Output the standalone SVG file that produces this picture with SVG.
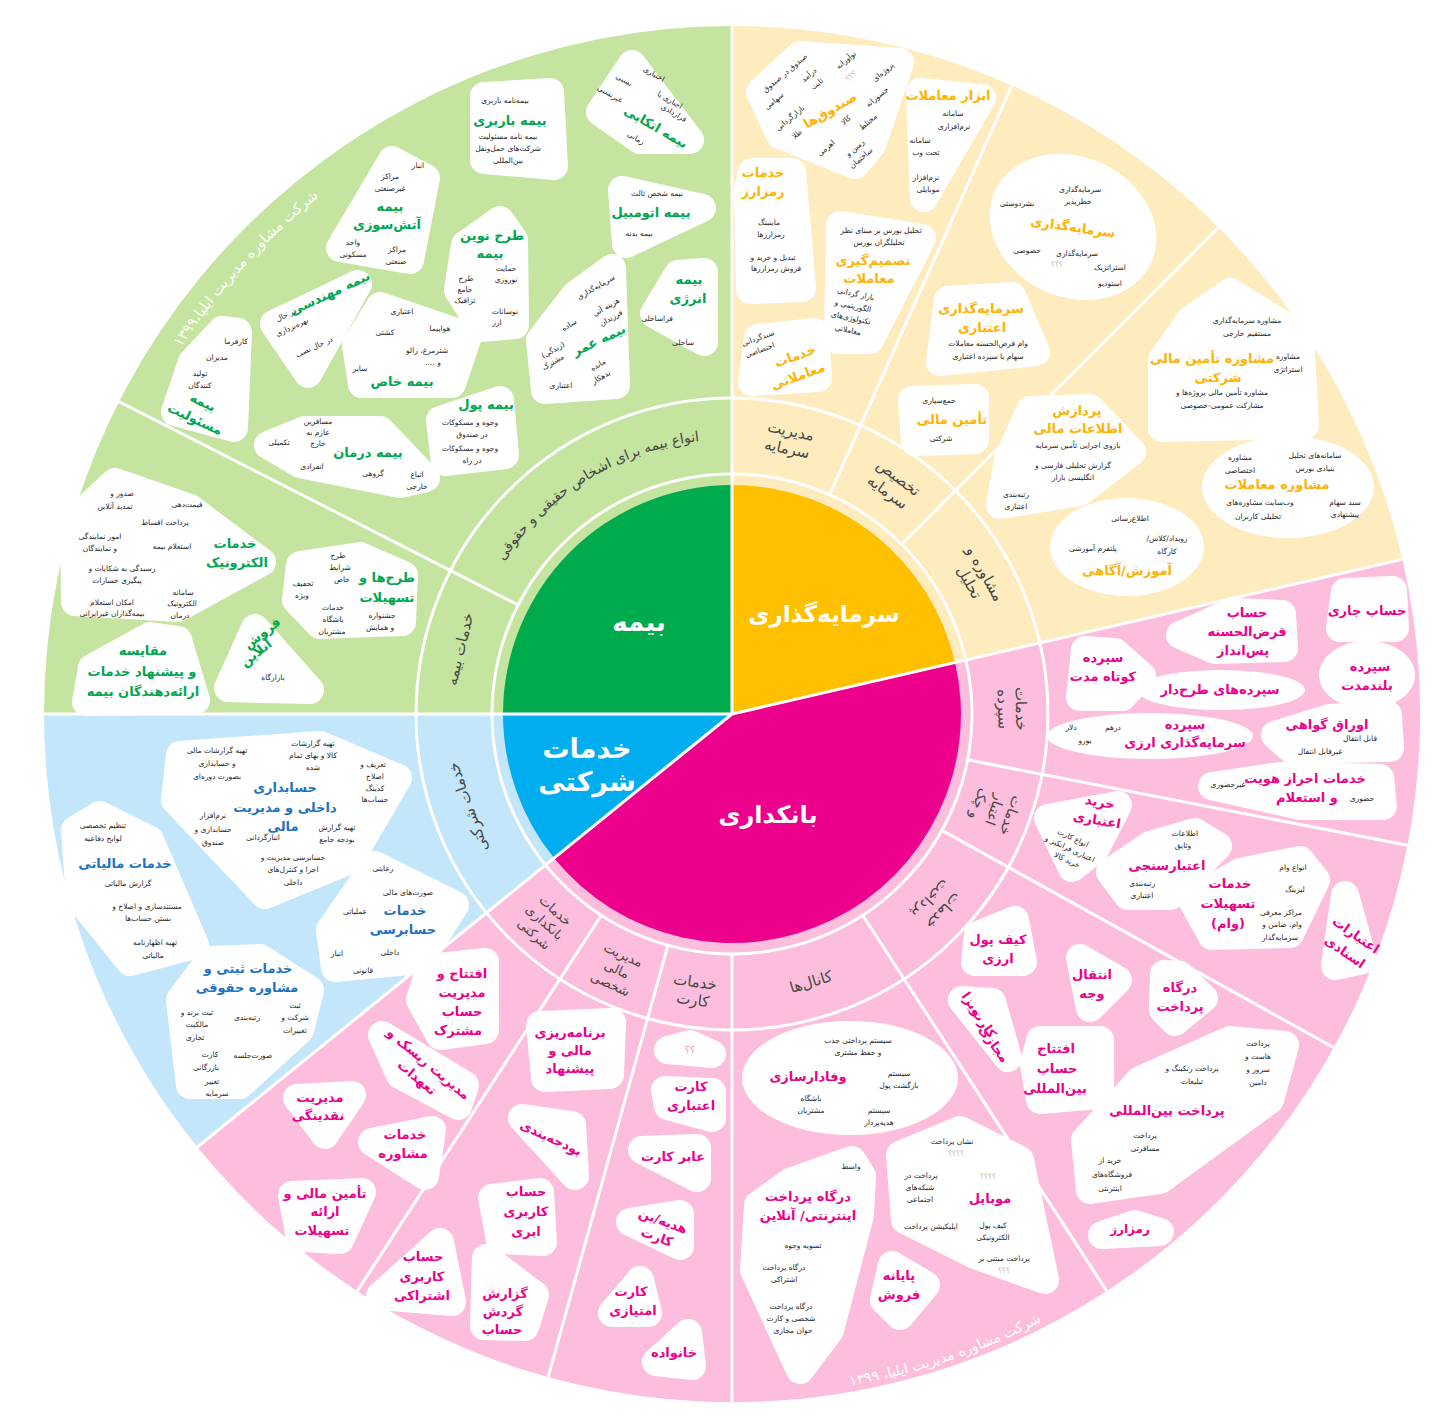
<svg xmlns="http://www.w3.org/2000/svg" width="1456" height="1418" viewBox="0 0 1456 1418">
<style>
text{font-family:"DejaVu Sans","Noto Sans",sans-serif;text-anchor:middle;dominant-baseline:central;direction:rtl}
.s{font-size:7.5px;fill:#262626}
.q{font-size:7.5px;fill:#b5b5b5}
.g{font-size:13px;font-weight:bold;fill:#00a650}
.y{font-size:13px;font-weight:bold;fill:#ffb300}
.p{font-size:13px;font-weight:bold;fill:#ec008c}
.c{font-size:13px;font-weight:bold;fill:#1e73be}
.m{font-size:15px;fill:#464646}
.pl{font-weight:bold;fill:#fff}
.arc{dominant-baseline:auto;font-size:14.5px;fill:#fff}
.b{fill:#fff;stroke:#fff;stroke-width:28;stroke-linejoin:round}
.e{fill:#fff}
</style>
<defs>
<path id="arcG" d="M487,589.1 A275,275 0 0 1 732,439"/>
<path id="arcTop" d="M132,434.2 A662,662 0 0 1 401,140.7"/>
<path id="arcBot" d="M791.5,1393.4 A682,682 0 0 0 1093.4,1292.3"/>
</defs>
<rect width="1456" height="1418" fill="#fff"/>
<g id="sectors">
<path fill="#c4e4a0" d="M732,714 L44,714 A688,688 0 0 1 732,26 Z"/>
<path fill="#feebbe" d="M732,714 L732,26 A688,688 0 0 1 1402.4,559.2 Z"/>
<path fill="#fcbedc" d="M732,714 L1402.4,559.2 A688,688 0 0 1 197.3,1147 Z"/>
<path fill="#c4e6fa" d="M732,714 L197.3,1147 A688,688 0 0 1 44,714 Z"/>
</g>
<g id="node-bime"><path fill="#00ab4e" d="M732,714 L503,714 A229,229 0 0 1 732,485 Z"/></g>
<g id="node-sarmaye"><path fill="#ffc000" d="M732,714 L732,485 A229,229 0 0 1 955.1,662.5 Z"/></g>
<g id="node-banki"><path fill="#ed008c" d="M732,714 L955.1,662.5 A229,229 0 0 1 554,858.1 Z"/></g>
<g id="node-sherkati"><path fill="#00aeef" d="M732,714 L554,858.1 A229,229 0 0 1 503,714 Z"/></g>
<g id="connectors" stroke="#fff" stroke-width="3" fill="none">
<circle cx="732" cy="714" r="240"/>
<circle cx="732" cy="714" r="316"/>
<line x1="732" y1="714" x2="732" y2="26"/>
<line x1="732" y1="714" x2="1402.4" y2="559.2"/>
<line x1="732" y1="714" x2="197.3" y2="1147"/>
<line x1="732" y1="714" x2="44" y2="714"/>
<line x1="518.2" y1="605" x2="119" y2="401.6"/>
<line x1="829.6" y1="494.8" x2="1011.8" y2="85.5"/>
<line x1="901.7" y1="544.3" x2="1218.5" y2="227.5"/>
<line x1="967.6" y1="759.8" x2="1407.3" y2="845.3"/>
<line x1="941.9" y1="830.4" x2="1333.7" y2="1047.5"/>
<line x1="862.7" y1="915.3" x2="1106.7" y2="1291"/>
<line x1="732" y1="954" x2="732" y2="1402"/>
<line x1="667.9" y1="945.3" x2="548.2" y2="1376.9"/>
<line x1="601.3" y1="915.3" x2="357.3" y2="1291"/>
</g>
<g id="pie-labels">
<text class="pl" x="639" y="622" font-size="26">بیمه</text>
<text class="pl" x="824" y="614" font-size="23">سرمایه&#8204;گذاری</text>
<text class="pl" x="587" y="748" font-size="27">خدمات</text>
<text class="pl" x="587" y="781" font-size="27">شرکتی</text>
<text class="pl" x="768" y="815" font-size="24">بانکداری</text>
</g>
<g id="ring-labels">
<text class="m" transform="rotate(12 789 440)"><tspan x="789" y="431">مدیریت</tspan><tspan x="789" y="449">سرمایه</tspan></text>
<text class="m" transform="rotate(37 893 485)"><tspan x="893" y="476">تخصیص</tspan><tspan x="893" y="494">سرمایه</tspan></text>
<text class="m" transform="rotate(61 977 578)"><tspan x="977" y="569">مشاوره و</tspan><tspan x="977" y="587">تحلیل</tspan></text>
<text class="m" transform="rotate(89 1012 709)"><tspan x="1012" y="700">خدمات</tspan><tspan x="1012" y="718">سپرده</tspan></text>
<text class="m" style="font-size:14px" transform="rotate(110 995 810)"><tspan x="995" y="793">خدمات</tspan><tspan x="995" y="810">اعتبار</tspan><tspan x="995" y="827">و چک</tspan></text>
<text class="m" transform="rotate(133 937 905)"><tspan x="937" y="896">خدمات</tspan><tspan x="937" y="914">پرداخت</tspan></text>
<text class="m" transform="rotate(-16.5 811 982)" x="811" y="982">کانال&#8204;ها</text>
<text class="m" transform="rotate(7.75 694 991)"><tspan x="694" y="982">خدمات</tspan><tspan x="694" y="1000">کارت</tspan></text>
<text class="m" style="font-size:13px" transform="rotate(24.25 617 969)"><tspan x="617" y="953">مدیریت</tspan><tspan x="617" y="969">مالی</tspan><tspan x="617" y="985">شخصی</tspan></text>
<text class="m" style="font-size:13px" transform="rotate(42 545 922)"><tspan x="545" y="906">خدمات</tspan><tspan x="545" y="922">بانکداری</tspan><tspan x="545" y="938">شرکتی</tspan></text>
<text class="m" transform="rotate(-109.5 468 807)" x="468" y="807">خدمات شرکتی</text>
<text class="m" transform="rotate(-76.5 460 649)" x="460" y="649">خدمات بیمه</text>
<text class="m" style="dominant-baseline:auto;font-size:14px"><textPath href="#arcG" startOffset="50%">انواع بیمه برای اشخاص حقیقی و حقوقی</textPath></text>
<text class="arc"><textPath href="#arcTop" startOffset="50%">شرکت مشاوره مدیریت ایلیا،۱۳۹۹</textPath></text>
<text class="arc" style="font-size:14px"><textPath href="#arcBot" startOffset="50%">شرکت مشاوره مدیریت ایلیا، ۱۳۹۹</textPath></text>
</g>
<g id="n-barbari">
<polygon class="b" points="484,96 550,92 554,166 484,160"/>
<text class="s" x="505" y="100">بیمه&#8204;نامه باربری</text>
<text class="g" x="510" y="120">بیمه باربری</text>
<text class="s" x="508" y="136">بیمه نامه مسئولیت</text>
<text class="s" x="508" y="148">شرکت&#8204;های حمل&#8204;ونقل</text>
<text class="s" x="508" y="160">بین&#8204;المللی</text>
</g>
<g id="n-etekaei">
<polygon class="b" points="632,64 690,140 640,140 600,112"/>
<text class="s" x="654" y="74" transform="rotate(30 654 74)">اختیاری</text>
<text class="s" x="624" y="80" transform="rotate(30 624 80)">نسبی</text>
<text class="s" x="610" y="94" transform="rotate(30 610 94)">غیرنسبی</text>
<text class="s" x="670" y="100" transform="rotate(30 670 100)">اجباری یا</text>
<text class="s" x="674" y="113" transform="rotate(30 674 113)">قراردادی</text>
<text class="g" x="656" y="127" transform="rotate(30 656 127)">بیمه اتکایی</text>
<text class="s" x="636" y="138" transform="rotate(30 636 138)">زمانی</text>
</g>
<g id="n-atash">
<polygon class="b" points="392,160 426,178 410,260 340,248"/>
<text class="s" x="418" y="165">انبار</text>
<text class="s" x="390" y="176">مراکز</text>
<text class="s" x="390" y="188">غیرصنعتی</text>
<text class="g" x="390" y="206">بیمه</text>
<text class="g" x="387" y="224">آتش&#8204;سوزی</text>
<text class="s" x="353" y="242">واحد</text>
<text class="s" x="353" y="254">مسکونی</text>
<text class="s" x="397" y="249">مراکز</text>
<text class="s" x="396" y="261">صنعتی</text>
</g>
<g id="n-novin">
<polygon class="b" points="500,220 514,240 515,325 482,328 458,290 465,245"/>
<text class="g" x="492" y="235">طرح نوین</text>
<text class="g" x="490" y="253">بیمه</text>
<text class="s" x="506" y="268">حمایت</text>
<text class="s" x="506" y="279">نوروزی</text>
<text class="s" x="466" y="278">طرح</text>
<text class="s" x="465" y="289">جامع</text>
<text class="s" x="465" y="300">ترافیک</text>
<text class="s" x="505" y="311">نوسانات</text>
<text class="s" x="497" y="322">ارز</text>
</g>
<g id="n-otomobil">
<polygon class="b" points="622,190 702,208 626,244"/>
<text class="s" x="657" y="193">بیمه شخص ثالث</text>
<text class="g" x="651" y="212">بیمه اتومبیل</text>
<text class="s" x="639" y="233">بیمه بدنه</text>
</g>
<g id="n-enerji">
<polygon class="b" points="678,274 704,272 704,342 654,314"/>
<text class="g" x="689" y="279">بیمه</text>
<text class="g" x="688" y="298">انرژی</text>
<text class="s" x="657" y="318">فراساحلی</text>
<text class="s" x="683" y="342">ساحلی</text>
</g>
<g id="n-omr">
<polygon class="b" points="612,268 616,385 545,390 540,340 575,295"/>
<text class="s" x="596" y="287" transform="rotate(-30 596 287)">سرمایه&#8204;گذاری</text>
<text class="s" x="606" y="307" transform="rotate(-30 606 307)">هزینه آتی</text>
<text class="s" x="611" y="318" transform="rotate(-30 611 318)">فرزندان</text>
<text class="s" x="569" y="325" transform="rotate(-30 569 325)">ساده</text>
<text class="g" x="599" y="340" transform="rotate(-25 599 340)">بیمه عمر</text>
<text class="s" x="553" y="350" transform="rotate(-30 553 350)">(زندگی)</text>
<text class="s" x="553" y="362" transform="rotate(-30 553 362)">مشترک</text>
<text class="s" x="598" y="365" transform="rotate(-30 598 365)">مانده</text>
<text class="s" x="601" y="377" transform="rotate(-30 601 377)">بدهکار</text>
<text class="s" x="561" y="385">اعتباری</text>
</g>
<g id="n-mohandesi">
<polygon class="b" points="358,284 274,324 308,374"/>
<text class="g" x="330" y="293" transform="rotate(-25 330 293)">بیمه مهندسی</text>
<text class="s" x="286" y="315" transform="rotate(-25 286 315)">در حال</text>
<text class="s" x="292" y="327" transform="rotate(-25 292 327)">بهره&#8204;برداری</text>
<text class="s" x="314" y="347" transform="rotate(-25 314 347)">در حال نصب</text>
</g>
<g id="n-khas">
<polygon class="b" points="380,306 468,336 452,384 362,384 356,345"/>
<text class="s" x="402" y="311">اعتباری</text>
<text class="s" x="385" y="332">کشتی</text>
<text class="s" x="440" y="328">هواپیما</text>
<text class="s" x="427" y="350">شترمرغ، زالو</text>
<text class="s" x="433" y="362">و ....</text>
<text class="s" x="360" y="368">سایر</text>
<text class="g" x="402" y="381">بیمه خاص</text>
</g>
<g id="n-masooliat">
<polygon class="b" points="222,330 238,332 234,428 175,412 192,362"/>
<text class="s" x="236" y="341">کارفرما</text>
<text class="s" x="217" y="357">مدیران</text>
<text class="s" x="200" y="373">تولید</text>
<text class="s" x="200" y="385">کنندگان</text>
<text class="g" x="203" y="402" transform="rotate(25 203 402)">بیمه</text>
<text class="g" x="195" y="419" transform="rotate(25 195 419)">مسئولیت</text>
</g>
<g id="n-pool">
<polygon class="b" points="500,400 505,455 445,462 440,420"/>
<text class="g" x="486" y="404">بیمه پول</text>
<text class="s" x="470" y="422">وجوه و مسکوکات</text>
<text class="s" x="472" y="434">در صندوق</text>
<text class="s" x="470" y="448">وجوه و مسکوکات</text>
<text class="s" x="472" y="460">در راه</text>
</g>
<g id="n-darman">
<polygon class="b" points="268,445 305,430 380,430 426,478 400,484 300,464"/>
<text class="s" x="318" y="421">مسافرین</text>
<text class="s" x="318" y="432">عازم به</text>
<text class="s" x="318" y="443">خارج</text>
<text class="g" x="368" y="452">بیمه درمان</text>
<text class="s" x="279" y="442">تکمیلی</text>
<text class="s" x="312" y="466">انفرادی</text>
<text class="s" x="373" y="473">گروهی</text>
<text class="s" x="417" y="474">اتباع</text>
<text class="s" x="417" y="486">خارجی</text>
</g>
<g id="n-elec">
<polygon class="b" points="115,482 190,508 262,562 178,608 75,602 74,520"/>
<text class="s" x="122" y="493">صدور و</text>
<text class="s" x="115" y="506">تمدید آنلاین</text>
<text class="s" x="187" y="504">قیمت&#8204;دهی</text>
<text class="s" x="165" y="522">پرداخت اقساط</text>
<text class="s" x="100" y="536">امور نمایندگی</text>
<text class="s" x="100" y="548">و نمایندگان</text>
<text class="s" x="172" y="546">استعلام بیمه</text>
<text class="g" x="235" y="543">خدمات</text>
<text class="g" x="237" y="562">الکترونیک</text>
<text class="s" x="122" y="568">رسیدگی به شکایات و</text>
<text class="s" x="117" y="580">پیگیری خسارات</text>
<text class="s" x="183" y="592">سامانه</text>
<text class="s" x="182" y="603">الکترونیک</text>
<text class="s" x="180" y="615">درمان</text>
<text class="s" x="112" y="602">امکان استعلام</text>
<text class="s" x="112" y="613">بیمه&#8204;گذاران غیرایرانی</text>
</g>
<g id="n-tarh">
<polygon class="b" points="300,565 360,556 404,575 402,622 320,625 296,600"/>
<text class="s" x="338" y="555">طرح</text>
<text class="s" x="340" y="567">شرایط</text>
<text class="s" x="342" y="579">خاص</text>
<text class="g" x="387" y="577">طرح&#8204;ها و</text>
<text class="g" x="387" y="597">تسهیلات</text>
<text class="s" x="303" y="583">تخفیف</text>
<text class="s" x="302" y="595">ویژه</text>
<text class="s" x="333" y="607">خدمات</text>
<text class="s" x="333" y="619">باشگاه</text>
<text class="s" x="332" y="631">مشتریان</text>
<text class="s" x="382" y="615">جشنواره</text>
<text class="s" x="380" y="627">و همایش</text>
</g>
<g id="n-foroosh">
<polygon class="b" points="255,628 310,690 228,688"/>
<text class="g" x="262" y="633" transform="rotate(-38 262 633)">فروش</text>
<text class="g" x="256" y="653" transform="rotate(-38 256 653)">آنلاین</text>
<text class="s" x="273" y="677">بازارگاه</text>
</g>
<g id="n-moghayese">
<polygon class="b" points="150,636 178,640 196,700 86,702 92,668"/>
<text class="g" x="143" y="650">مقایسه</text>
<text class="g" x="142" y="671">و پیشنهاد خدمات</text>
<text class="g" x="143" y="691">ارائه&#8204;دهندگان بیمه</text>
</g>
<g id="n-sandoogh">
<polygon class="b" points="760,92 800,55 900,62 872,145 855,165 780,135"/>
<text class="s" x="785" y="73" transform="rotate(-40 785 73)">صندوق در صندوق</text>
<text class="s" x="774" y="101" transform="rotate(-40 774 101)">سهامی</text>
<text class="s" x="809" y="75" transform="rotate(-40 809 75)">درآمد</text>
<text class="s" x="817" y="84" transform="rotate(-40 817 84)">ثابت</text>
<text class="s" x="846" y="60" transform="rotate(-40 846 60)">نوآورانه</text>
<text class="q" x="851" y="76" transform="rotate(-40 851 76)">؟؟؟</text>
<text class="s" x="883" y="72" transform="rotate(-40 883 72)">پروژه&#8204;ای</text>
<text class="s" x="790" y="118" transform="rotate(-40 790 118)">بازارگردانی</text>
<text class="y" x="830" y="110" transform="rotate(-30 830 110)">صندوق&#8204;ها</text>
<text class="s" x="877" y="97" transform="rotate(-40 877 97)">جسورانه</text>
<text class="s" x="797" y="134" transform="rotate(-40 797 134)">طلا</text>
<text class="s" x="846" y="120" transform="rotate(-40 846 120)">کالا</text>
<text class="s" x="868" y="122" transform="rotate(-40 868 122)">مختلط</text>
<text class="s" x="826" y="148" transform="rotate(-40 826 148)">اهرمی</text>
<text class="s" x="855" y="148" transform="rotate(-40 855 148)">زمین و</text>
<text class="s" x="861" y="158" transform="rotate(-40 861 158)">ساختمان</text>
</g>
<g id="n-abzar">
<polygon class="b" points="920,92 982,98 924,198"/>
<text class="y" x="948" y="95">ابزار معاملات</text>
<text class="s" x="953" y="113">سامانه</text>
<text class="s" x="954" y="126">نرم&#8204;افزاری</text>
<text class="s" x="920" y="140">سامانه</text>
<text class="s" x="926" y="152">تحت وب</text>
<text class="s" x="926" y="177">نرم&#8204;افزار</text>
<text class="s" x="928" y="189">موبایلی</text>
</g>
<g id="n-ramzarz">
<polygon class="b" points="752,172 792,172 802,288 750,290 748,190"/>
<text class="y" x="763" y="172">خدمات</text>
<text class="y" x="763" y="191">رمزارز</text>
<text class="s" x="769" y="222">ماینینگ</text>
<text class="s" x="771" y="234">رمزارزها</text>
<text class="s" x="773" y="257">تبدیل و خرید و</text>
<text class="s" x="776" y="268">فروش رمزارزها</text>
</g>
<g id="n-tasmim">
<polygon class="b" points="840,225 922,238 870,340 838,340"/>
<text class="s" x="881" y="230">تحلیل بورس بر مبنای نظر</text>
<text class="s" x="879" y="242">تحلیلگران بورس</text>
<text class="y" x="873" y="260">تصمیم&#8204;گیری</text>
<text class="y" x="869" y="278">معاملات</text>
<text class="s" x="856" y="294" transform="rotate(12 856 294)">بازار گردانی</text>
<text class="s" x="853" y="306" transform="rotate(12 853 306)">الگوریتمی و</text>
<text class="s" x="851" y="318" transform="rotate(12 851 318)">تکنولوژی&#8204;های</text>
<text class="s" x="848" y="330" transform="rotate(12 848 330)">معاملاتی</text>
</g>
<g id="n-moamelati">
<polygon class="b" points="758,338 815,332 818,378 752,382"/>
<text class="s" x="758" y="338" transform="rotate(-20 758 338)">سبدگردانی</text>
<text class="s" x="760" y="350" transform="rotate(-20 760 350)">اختصاصی</text>
<text class="y" x="795" y="356" transform="rotate(-20 795 356)">خدمات</text>
<text class="y" x="798" y="376" transform="rotate(-20 798 376)">معاملاتی</text>
</g>
<g id="n-sarmayegozari">
<ellipse class="e" cx="1073" cy="227" rx="86" ry="70" transform="rotate(25 1073 227)"/>
<text class="s" x="1080" y="189">سرمایه&#8204;گذاری</text>
<text class="s" x="1078" y="201">خطرپذیر</text>
<text class="s" x="1017" y="203">بشردوستی</text>
<text class="y" x="1073" y="227" transform="rotate(8 1073 227)">سرمایه&#8204;گذاری</text>
<text class="s" x="1027" y="250">خصوصی</text>
<text class="s" x="1077" y="253">سرمایه&#8204;گذاری</text>
<text class="q" x="1057" y="264">؟؟؟</text>
<text class="s" x="1110" y="267">استراتژیک</text>
<text class="s" x="1110" y="283">استودیو</text>
</g>
<g id="n-etebari">
<polygon class="b" points="948,300 1012,296 1036,352 940,362"/>
<text class="y" x="981" y="308">سرمایه&#8204;گذاری</text>
<text class="y" x="982" y="327">اعتباری</text>
<text class="s" x="988" y="343">وام قرض&#8204;الحسنه معاملات</text>
<text class="s" x="988" y="356">سهام با سپرده اعتباری</text>
</g>
<g id="n-tamin">
<polygon class="b" points="912,400 975,398 975,440 915,442"/>
<text class="s" x="939" y="400">جمع&#8204;سپاری</text>
<text class="y" x="952" y="419">تأمین مالی</text>
<text class="s" x="941" y="438">شرکتی</text>
</g>
<g id="n-moshavere-tamin">
<polygon class="b" points="1230,292 1300,335 1305,425 1162,428 1162,360 1190,320"/>
<text class="s" x="1247" y="320">مشاوره سرمایه&#8204;گذاری</text>
<text class="s" x="1247" y="333">مستقیم خارجی</text>
<text class="y" x="1212" y="358">مشاوره تأمین مالی</text>
<text class="s" x="1288" y="356">مشاوره</text>
<text class="s" x="1288" y="369">استراتژی</text>
<text class="y" x="1218" y="377">شرکتی</text>
<text class="s" x="1222" y="392">مشاوره تأمین مالی پروژه&#8204;ها و</text>
<text class="s" x="1222" y="405">مشارکت عمومی-خصوصی</text>
</g>
<g id="n-pardazesh">
<polygon class="b" points="1030,410 1090,408 1132,452 1080,492 1000,505 1008,460"/>
<text class="y" x="1077" y="410">پردازش</text>
<text class="y" x="1078" y="428">اطلاعات مالی</text>
<text class="s" x="1078" y="445">بازوی اجرایی تأمین سرمایه</text>
<text class="s" x="1073" y="465">گزارش تحلیلی فارسی و</text>
<text class="s" x="1073" y="477">انگلیسی بازار</text>
<text class="s" x="1016" y="494">رتبه&#8204;بندی</text>
<text class="s" x="1016" y="506">اعتباری</text>
</g>
<g id="n-moshavere-moamelat">
<ellipse class="e" cx="1288" cy="487" rx="86" ry="51"/>
<text class="s" x="1240" y="457">مشاوره</text>
<text class="s" x="1240" y="470">اختصاصی</text>
<text class="s" x="1315" y="455">سامانه&#8204;های تحلیل</text>
<text class="s" x="1315" y="468">بنیادی بورس</text>
<text class="y" x="1277" y="484">مشاوره معاملات</text>
<text class="s" x="1260" y="502">وب&#8204;سایت مشاوره&#8204;های</text>
<text class="s" x="1258" y="516">تحلیلی کاربران</text>
<text class="s" x="1345" y="502">سبد سهام</text>
<text class="s" x="1345" y="514">پیشنهادی</text>
</g>
<g id="n-amoozesh">
<ellipse class="e" cx="1127" cy="547" rx="77" ry="49"/>
<text class="s" x="1130" y="518">اطلاع&#8204;رسانی</text>
<text class="s" x="1167" y="538">رویداد/کلاس/</text>
<text class="s" x="1167" y="551">کارگاه</text>
<text class="s" x="1093" y="548">پلتفرم آموزشی</text>
<text class="y" x="1127" y="570">آموزش/آگاهی</text>
</g>
<g id="n-jari"><polygon class="b" points="1345,592 1393,590 1395,628 1340,628"/><text class="p" x="1367" y="610">حساب جاری</text></g>
<g id="n-gharz"><polygon class="b" points="1180,635 1232,612 1282,614 1284,648 1215,650"/><text class="p" x="1247" y="612">حساب</text><text class="p" x="1247" y="631">قرض&#8204;الحسنه</text><text class="p" x="1243" y="650">پس&#8204;انداز</text></g>
<g id="n-kootah"><polygon class="b" points="1085,650 1115,652 1142,676 1122,697 1080,697"/><text class="p" x="1103" y="657">سپرده</text><text class="p" x="1103" y="676">کوتاه مدت</text></g>
<g id="n-tarhdar"><ellipse class="e" cx="1221" cy="690" rx="84" ry="20"/><text class="p" x="1220" y="689">سپرده&#8204;های طرح&#8204;دار</text></g>
<g id="n-boland"><ellipse class="e" cx="1367" cy="675" rx="48" ry="34"/><text class="p" x="1370" y="666">سپرده</text><text class="p" x="1367" y="685">بلندمدت</text></g>
<g id="n-arzi"><ellipse class="e" cx="1150" cy="736" rx="103" ry="23"/><text class="p" x="1185" y="724">سپرده</text><text class="p" x="1185" y="742">سرمایه&#8204;گذاری ارزی</text><text class="s" x="1113" y="727">درهم</text><text class="s" x="1071" y="727">دلار</text><text class="s" x="1085" y="740">یورو</text></g>
<g id="n-oragh"><polygon class="b" points="1275,735 1330,718 1388,715 1390,748 1292,750"/><text class="p" x="1327" y="724">اوراق گواهی</text><text class="s" x="1360" y="738">قابل انتقال</text><text class="s" x="1320" y="751">غیرقابل انتقال</text></g>
<g id="n-ehraz"><polygon class="b" points="1212,786 1280,776 1380,778 1383,806 1300,806"/><text class="p" x="1305" y="778">خدمات احراز هویت</text><text class="p" x="1307" y="797">و استعلام</text><text class="s" x="1228" y="784">غیرحضوری</text><text class="s" x="1362" y="798">حضوری</text></g>
<g id="n-kharid"><polygon class="b" points="1048,818 1118,805 1095,850 1072,868"/>
<text class="p" x="1100" y="802" transform="rotate(10 1100 802)">خرید</text>
<text class="p" x="1097" y="820" transform="rotate(10 1097 820)">اعتباری</text>
<text class="s" x="1073" y="838" transform="rotate(25 1073 838)">انواع کارت</text>
<text class="s" x="1070" y="849" transform="rotate(25 1070 849)">اعتباری فرانکیز و</text>
<text class="s" x="1067" y="860" transform="rotate(25 1067 860)">خرید کالا</text>
</g>
<g id="n-etebarsanji"><polygon class="b" points="1110,872 1150,845 1195,832 1218,846 1170,896 1128,896"/>
<text class="s" x="1185" y="833">اطلاعات</text><text class="s" x="1183" y="845">وثایق</text>
<text class="p" x="1167" y="865">اعتبارسنجی</text>
<text class="s" x="1142" y="883">رتبه&#8204;بندی</text><text class="s" x="1142" y="895">اعتباری</text></g>
<g id="n-tashilat"><polygon class="b" points="1192,900 1240,872 1300,860 1316,880 1290,934 1212,936"/>
<text class="p" x="1230" y="883">خدمات</text><text class="p" x="1228" y="903">تسهیلات</text><text class="p" x="1228" y="923">(وام)</text>
<text class="s" x="1293" y="867">انواع وام</text><text class="s" x="1295" y="889">لیزینگ</text>
<text class="s" x="1281" y="912">مراکز معرفی</text><text class="s" x="1282" y="924">وام، ضامن و</text><text class="s" x="1280" y="937">سرمایه&#8204;گذار</text></g>
<g id="n-asnadi"><polygon class="b" points="1345,895 1363,960 1335,966"/>
<text class="p" x="1356" y="935" transform="rotate(35 1356 935)">اعتبارات</text>
<text class="p" x="1345" y="952" transform="rotate(35 1345 952)">اسنادی</text></g>
<g id="n-kif"><polygon class="b" points="1015,920 1023,962 975,962 978,935"/><text class="p" x="998" y="939">کیف پول</text><text class="p" x="998" y="958">ارزی</text></g>
<g id="n-enteghal"><polygon class="b" points="1080,958 1118,980 1090,1008"/><text class="p" x="1092" y="974">انتقال</text><text class="p" x="1092" y="993">وجه</text></g>
<g id="n-dargah"><polygon class="b" points="1164,974 1180,975 1204,998 1175,1022 1163,1010"/><text class="p" x="1180" y="987">درگاه</text><text class="p" x="1180" y="1006">پرداخت</text></g>
<g id="n-visa"><polygon class="b" points="962,1000 992,1002 1008,1058"/>
<text class="p" x="972" y="1004" transform="rotate(55 972 1004)">ویزا</text>
<text class="p" x="984" y="1023" transform="rotate(55 984 1023)">کارت</text>
<text class="p" x="994" y="1044" transform="rotate(55 994 1044)">مجازی</text></g>
<g id="n-hesab-bein"><polygon class="b" points="1040,1040 1100,1040 1100,1095 1040,1100 1034,1065"/><text class="p" x="1056" y="1048">افتتاح</text><text class="p" x="1057" y="1068">حساب</text><text class="p" x="1055" y="1088">بین&#8204;المللی</text></g>
<g id="n-pardakht-bein"><polygon class="b" points="1085,1140 1140,1080 1230,1040 1285,1045 1270,1100 1160,1180 1090,1190"/>
<text class="p" x="1167" y="1110">پرداخت بین&#8204;المللی</text>
<text class="s" x="1258" y="1043">پرداخت</text><text class="s" x="1258" y="1056">هاست و</text><text class="s" x="1258" y="1069">سرور و</text><text class="s" x="1258" y="1082">دامین</text>
<text class="s" x="1192" y="1068">پرداخت رنکینگ و</text><text class="s" x="1192" y="1081">تبلیغات</text>
<text class="s" x="1145" y="1135">پرداخت</text><text class="s" x="1145" y="1148">مسافرتی</text>
<text class="s" x="1110" y="1160">خرید از</text><text class="s" x="1112" y="1174">فروشگاه&#8204;های</text><text class="s" x="1110" y="1188">اینترنتی</text></g>
<g id="n-ramz2"><polygon class="b" points="1102,1235 1135,1224 1160,1232"/><text class="p" x="1130" y="1229" style="font-size:12px">رمزارز</text></g>
<g id="n-vafadar"><ellipse class="e" cx="850" cy="1078" rx="108" ry="57"/>
<text class="s" x="858" y="1040">سیستم پرداختی جذب</text><text class="s" x="858" y="1052">و حفظ مشتری</text>
<text class="p" x="808" y="1076">وفادارسازی</text>
<text class="s" x="899" y="1073">سیستم</text><text class="s" x="899" y="1085">بازگشت پول</text>
<text class="s" x="811" y="1098">باشگاه</text><text class="s" x="811" y="1110">مشتریان</text>
<text class="s" x="879" y="1110">سیستم</text><text class="s" x="879" y="1122">هدیه&#8204;پرداز</text></g>
<g id="n-dargah-internet"><polygon class="b" points="852,1160 862,1176 860,1215 830,1330 800,1370 754,1270 758,1205 790,1182"/>
<text class="s" x="851" y="1166">واسط</text>
<text class="p" x="808" y="1196">درگاه پرداخت</text>
<text class="p" x="808" y="1215">اینترنتی/ آنلاین</text>
<text class="s" x="803" y="1245">تسویه وجوه</text>
<text class="s" x="784" y="1267">درگاه پرداخت</text><text class="s" x="784" y="1279">اشتراکی</text>
<text class="s" x="791" y="1306">درگاه پرداخت</text><text class="s" x="791" y="1318">شخصی و کارت</text><text class="s" x="793" y="1330">خوان مجازی</text></g>
<g id="n-mobile"><polygon class="b" points="900,1155 960,1130 1020,1160 1045,1280 975,1255 905,1220"/>
<text class="s" x="952" y="1141">نشان پرداخت</text><text class="q" x="956" y="1153">؟؟؟؟</text>
<text class="s" x="921" y="1175">پرداخت در</text><text class="s" x="920" y="1187">شبکه&#8204;های</text><text class="s" x="920" y="1199">اجتماعی</text>
<text class="q" x="988" y="1176">؟؟؟؟</text>
<text class="p" x="990" y="1198">موبایل</text>
<text class="s" x="931" y="1226">اپلیکیشن پرداخت</text>
<text class="s" x="993" y="1225">کیف پول</text><text class="s" x="993" y="1237">الکترونیکی</text>
<text class="s" x="1004" y="1258">پرداخت مبتنی بر</text><text class="q" x="1004" y="1270">؟؟؟</text></g>
<g id="n-payane"><polygon class="b" points="892,1265 926,1285 900,1316 884,1300"/><text class="p" x="899" y="1275">پایانه</text><text class="p" x="899" y="1294">فروش</text></g>
<g id="n-qq"><polygon class="b" points="668,1050 690,1044 712,1054"/><text x="690" y="1050" style="fill:#f48cc0;font-size:10px">؟؟</text></g>
<g id="n-etebari-card"><polygon class="b" points="665,1090 712,1092 712,1118 668,1106"/><text class="p" x="691" y="1086">کارت</text><text class="p" x="691" y="1105">اعتباری</text></g>
<g id="n-aber"><polygon class="b" points="642,1150 697,1148 697,1178"/><text class="p" x="673" y="1156">عابر کارت</text></g>
<g id="n-hedie"><polygon class="b" points="630,1222 680,1214 680,1246"/>
<text class="p" x="663" y="1221" transform="rotate(20 663 1221)">هدیه/بن</text>
<text class="p" x="657" y="1237" transform="rotate(20 657 1237)">کارت</text></g>
<g id="n-emtiazi"><polygon class="b" points="640,1280 648,1313 612,1313"/><text class="p" x="631" y="1291">کارت</text><text class="p" x="633" y="1310">امتیازی</text></g>
<g id="n-khanevade"><polygon class="b" points="688,1333 692,1366 656,1362"/><text class="p" x="674" y="1352">خانواده</text></g>
<g id="n-barname"><polygon class="b" points="540,1025 612,1022 610,1075 545,1078"/><text class="p" x="570" y="1032">برنامه&#8204;ریزی</text><text class="p" x="570" y="1050">مالی و</text><text class="p" x="570" y="1068">پیشنهاد</text></g>
<g id="n-boodje"><polygon class="b" points="522,1118 572,1125 575,1176"/><text class="p" x="551" y="1138" transform="rotate(25 551 1138)">بودجه&#8204;بندی</text></g>
<g id="n-abri"><polygon class="b" points="492,1198 540,1192 543,1242 500,1240"/><text class="p" x="526" y="1191">حساب</text><text class="p" x="526" y="1211">کاربری</text><text class="p" x="526" y="1231">ابری</text></g>
<g id="n-gozaresh"><polygon class="b" points="486,1258 535,1295 525,1327 484,1326"/><text class="p" x="505" y="1293">گزارش</text><text class="p" x="503" y="1311">گردش</text><text class="p" x="502" y="1329">حساب</text></g>
<g id="n-eshteraki"><polygon class="b" points="440,1242 452,1302 380,1296"/><text class="p" x="423" y="1256">حساب</text><text class="p" x="422" y="1276">کاربری</text><text class="p" x="422" y="1295">اشتراکی</text></g>
<g id="n-moshtarak"><polygon class="b" points="430,968 485,962 485,1030 440,1036 420,1000"/><text class="p" x="462" y="973">افتتاح و</text><text class="p" x="462" y="992">مدیریت</text><text class="p" x="462" y="1011">حساب</text><text class="p" x="458" y="1030">مشترک</text></g>
<g id="n-risk"><polygon class="b" points="382,1035 465,1085 458,1106 400,1075"/><text class="p" transform="rotate(40 425 1068)"><tspan x="425" y="1062">مدیریت ریسک و</tspan><tspan x="425" y="1080">تعهدات</tspan></text></g>
<g id="n-naghdinegi"><polygon class="b" points="297,1098 352,1095 325,1135"/><text class="p" x="320" y="1097">مدیریت</text><text class="p" x="318" y="1115">نقدینگی</text></g>
<g id="n-moshavere"><polygon class="b" points="372,1142 432,1130 425,1176"/><text class="p" x="405" y="1134">خدمات</text><text class="p" x="403" y="1153">مشاوره</text></g>
<g id="n-tamin-tashilat"><polygon class="b" points="292,1195 362,1192 340,1240 300,1238"/><text class="p" x="325" y="1193">تأمین مالی و</text><text class="p" x="325" y="1211">ارائه</text><text class="p" x="322" y="1230">تسهیلات</text></g>
<g id="n-hesabdari"><polygon class="b" points="180,755 320,745 398,778 350,860 265,895 175,800"/>
<text class="s" x="217" y="750">تهیه گزارشات مالی</text><text class="s" x="217" y="763">و حسابداری</text><text class="s" x="217" y="776">بصورت دوره&#8204;ای</text>
<text class="s" x="313" y="743">تهیه گزارشات</text><text class="s" x="313" y="755">کالا و بهای تمام</text><text class="s" x="313" y="767">شده</text>
<text class="s" x="373" y="764">تعریف و</text><text class="s" x="375" y="776">اصلاح</text><text class="s" x="375" y="788">کدینگ</text><text class="s" x="375" y="799">حساب&#8204;ها</text>
<text class="c" x="285" y="787">حسابداری</text><text class="c" x="285" y="807">داخلی و مدیریت</text><text class="c" x="283" y="826">مالی</text>
<text class="s" x="213" y="815">نرم&#8204;افزار</text><text class="s" x="213" y="829">حسابداری و</text><text class="s" x="213" y="842">صندوق</text>
<text class="s" x="263" y="837">انبارگردانی</text>
<text class="s" x="337" y="827">تهیه گزارش</text><text class="s" x="337" y="839">بودجه جامع</text>
<text class="s" x="293" y="857">حسابرسی مدیریت و</text><text class="s" x="293" y="869">اجرا و کنترل&#8204;های</text><text class="s" x="293" y="882">داخلی</text></g>
<g id="n-maliati"><polygon class="b" points="75,830 100,815 150,840 195,945 130,962 80,900"/>
<text class="s" x="103" y="825">تنظیم تخصصی</text><text class="s" x="103" y="838">لوایح دفاعیه</text>
<text class="c" x="125" y="863">خدمات مالیاتی</text>
<text class="s" x="128" y="883">گزارش مالیاتی</text>
<text class="s" x="147" y="906">مستندسازی و اصلاح و</text><text class="s" x="148" y="918">بستن حساب&#8204;ها</text>
<text class="s" x="155" y="942">تهیه اظهارنامه</text><text class="s" x="153" y="955">مالیاتی</text></g>
<g id="n-hesabresi"><polygon class="b" points="375,865 455,905 420,960 335,968 330,930"/>
<text class="s" x="383" y="868">رعایتی</text>
<text class="s" x="408" y="892">صورت&#8204;های مالی</text>
<text class="s" x="355" y="911">عملیاتی</text>
<text class="c" x="405" y="910">خدمات</text><text class="c" x="403" y="929">حسابرسی</text>
<text class="s" x="390" y="952">داخلی</text>
<text class="s" x="337" y="953">انبار</text>
<text class="s" x="363" y="970">قانونی</text></g>
<g id="n-sabti"><polygon class="b" points="210,960 260,958 310,990 300,1030 240,1085 190,1085 180,1000"/>
<text class="c" x="248" y="968">خدمات ثبتی و</text><text class="c" x="247" y="987">مشاوره حقوقی</text>
<text class="s" x="295" y="1005">ثبت</text><text class="s" x="295" y="1017">شرکت و</text><text class="s" x="295" y="1030">تغییرات</text>
<text class="s" x="247" y="1017">رتبه&#8204;بندی</text>
<text class="s" x="197" y="1012">ثبت برند و</text><text class="s" x="197" y="1024">مالکیت</text><text class="s" x="195" y="1037">تجاری</text>
<text class="s" x="253" y="1055">صورت&#8204;جلسه</text>
<text class="s" x="210" y="1054">کارت</text><text class="s" x="206" y="1067">بازرگانی</text>
<text class="s" x="212" y="1081">تغییر</text><text class="s" x="217" y="1093">سرمایه</text></g>
</svg>
